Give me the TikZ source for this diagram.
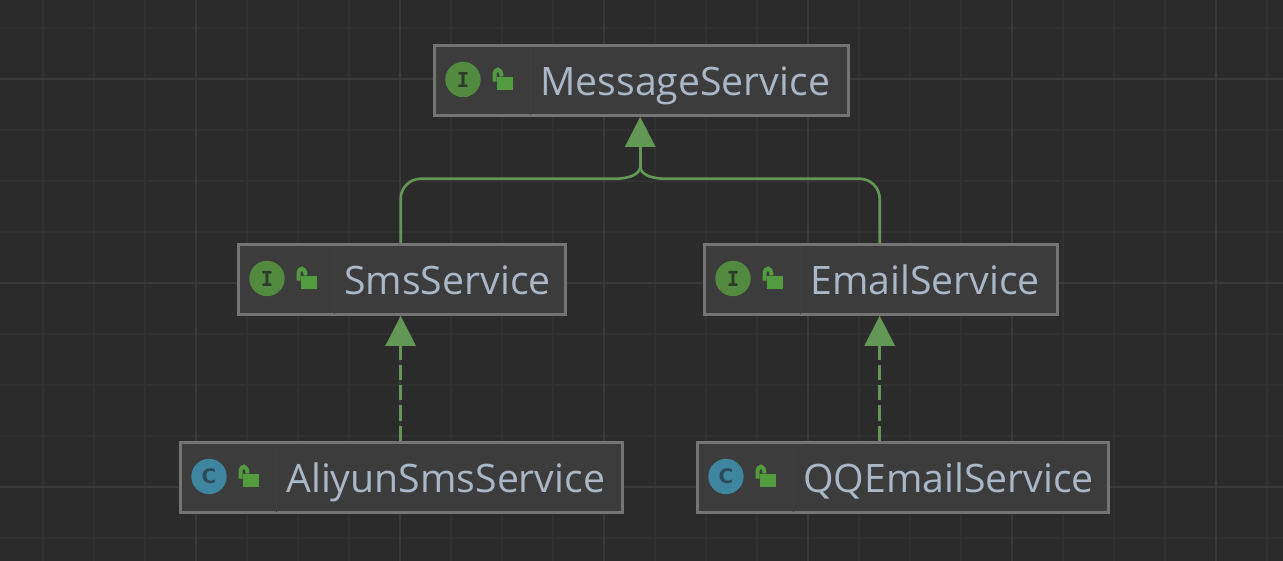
\documentclass[tikz,border=0pt]{standalone}
\usepackage{fontspec}
\setmainfont{Open Sans}
\newfontfamily\glyphfont{DejaVu Sans Mono}
\newfontfamily\roundfont{DejaVu Sans}
\usetikzlibrary{arrows.meta,calc}

\definecolor{canvas}{HTML}{2B2B2B}
\definecolor{gridminor}{HTML}{313131}
\definecolor{gridmajor}{HTML}{393939}
\definecolor{boxfill}{HTML}{3C3C3C}
\definecolor{boxline}{HTML}{747474}
\definecolor{boxrule}{HTML}{3F3F3F}
\definecolor{labeltext}{HTML}{A9B7C6}
\definecolor{linkgreen}{HTML}{629755}
\definecolor{lockgreen}{HTML}{529B3F}
\definecolor{ifacegreen}{HTML}{528A3F}
\definecolor{ifaceink}{HTML}{2C3B2A}
\definecolor{classblue}{HTML}{3E86A0}
\definecolor{classink}{HTML}{2B4A5C}

\tikzset{
  svcbox/.style={draw=boxline,fill=boxfill,line width=1.9pt,inner sep=0pt,minimum height=52.5pt},
  svclabel/.style={anchor=base west,inner sep=0pt,text=labeltext,font=\fontsize{29.4}{29.4}\selectfont},
  kindicon/.style={circle,inner sep=0pt,minimum size=26.5pt},
  ifaceicon/.style={kindicon,fill=ifacegreen,text=ifaceink,font=\glyphfont\bfseries\fontsize{15.5}{15.5}\selectfont},
  classicon/.style={kindicon,fill=classblue,text=classink,font=\roundfont\bfseries\fontsize{15}{15}\selectfont},
  extends/.style={draw=linkgreen,line width=2pt},
  implements/.style={extends,dash pattern=on 11.6pt off 3.7pt},
  hollowtip/.style={-{Triangle[length=22.5pt,width=22.5pt,color=linkgreen]}},
}

\begin{document}
\begin{tikzpicture}[x=0.75pt,y=-0.75pt]

\fill[canvas] (0,0) rectangle (1283,561);
\useasboundingbox (0,0) rectangle (1283,561);

\foreach \x in {43,94,...,1283}
    \draw[gridminor,line width=1.1pt] (\x,0) -- (\x,561);
\foreach \y in {28,79,...,561}
    \draw[gridminor,line width=1.1pt] (0,\y) -- (1283,\y);
\foreach \x in {196,400,...,1283}
    \draw[gridmajor,line width=1.5pt] (\x,0) -- (\x,561);
\foreach \y in {79,283,487}
    \draw[gridmajor,line width=1.5pt] (0,\y) -- (1283,\y);

\foreach \id/\xl/\xr/\yc/\txt/\letter/\kind in {
    msg/434/849/80.5/MessageService/I/ifaceicon,
    sms/238/566/279.5/SmsService/I/ifaceicon,
    email/704/1058/279.5/EmailService/I/ifaceicon,
    aliyun/180/623/477.5/AliyunSmsService/C/classicon,
    qq/697/1109/477.5/QQEmailService/C/classicon}{
    \pgfmathsetlengthmacro{\boxw}{(\xr-\xl-1)*0.75pt}
    \node[svcbox,minimum width=\boxw] (\id) at ({(\xl+\xr)/2},\yc) {};
    \begin{scope}[shift={(\xl,\yc)}]
        \draw[boxrule,line width=0.75pt] (96,-34) -- (96,34);
        \node[\kind] (\id-kind) at (29,-1) {\letter};
        \fill[lockgreen] (63,-4) rectangle (79,9);
        \draw[lockgreen,line width=3pt] (60.5,1) -- (60.5,-5) .. controls (60.5,-13) and (67.5,-13) .. (67.5,-4);
        \node[svclabel] (\id-label) at (106,14.5) {\txt};
    \end{scope}
}

\coordinate (msg-in) at ([xshift=-1pt]msg.south);
\coordinate (join) at ($(msg-in)+(0,51)$);
\coordinate (sms-up) at ([xshift=-1pt]sms.north);
\coordinate (email-up) at ([xshift=-1pt]email.north);
\coordinate (bend-l) at ($(join)+(-27,11)$);
\coordinate (bend-r) at ($(join)+(27,11)$);

\draw[extends,rounded corners=15pt] (sms-up) |- (bend-l);
\draw[extends,rounded corners=15pt] (email-up) |- (bend-r);
\draw[extends] (bend-l) .. controls +(14,0) and +(-2,8) .. (join);
\draw[extends] (bend-r) .. controls +(-14,0) and +(2,8) .. (join);
\draw[extends,hollowtip] (join) -- (msg-in);

\draw[implements,hollowtip] (sms-up |- aliyun.north) -- ([xshift=-1pt]sms.south);
\draw[implements,hollowtip] (email-up |- qq.north) -- ([xshift=-1pt]email.south);

\end{tikzpicture}
\end{document}
